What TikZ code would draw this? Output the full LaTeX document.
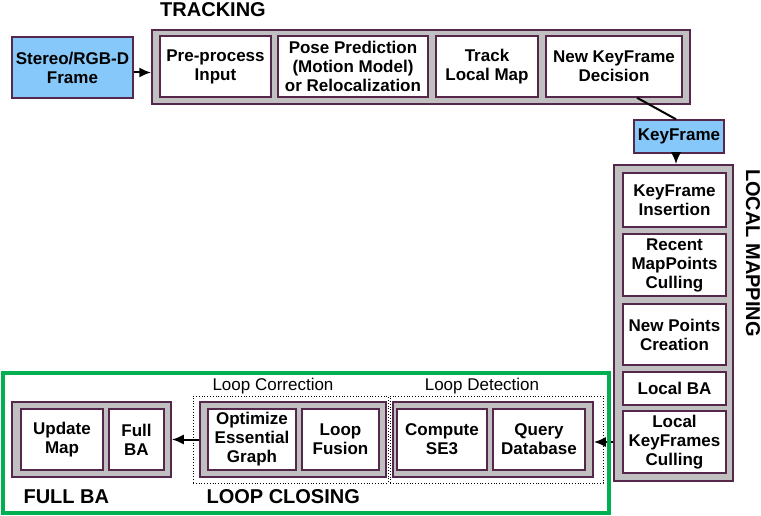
\documentclass[tikz,border=0pt]{standalone}
\usepackage{fontspec}
\setmainfont{Liberation Sans}
\usetikzlibrary{arrows.meta}
\definecolor{kfblue}{RGB}{135,200,250}
\definecolor{boxgray}{RGB}{192,192,192}
\definecolor{edge}{RGB}{85,40,75}
\definecolor{lcgreen}{RGB}{0,176,80}
\tikzset{task/.style={draw=edge, line width=1.5pt, fill=white, align=center, inner sep=0pt,
    font=\fontsize{17}{19}\selectfont\bfseries},
  input/.style={task, fill=kfblue},
  thread/.style={draw=edge, line width=1.5pt, fill=boxgray, inner sep=0pt},
  group/.style={draw, dotted, thick, inner sep=0pt},
  title/.style={font=\fontsize{20}{22}\selectfont\bfseries},
  sub/.style={font=\fontsize{17}{19}\selectfont},
  arr/.style={-{Latex[length=12pt,width=10pt]}, line width=2pt}}

\begin{document}
\begin{tikzpicture}[x=1pt, y=-1pt]
    \useasboundingbox (0,0) rectangle (761,516);
    \node [input, minimum width=121, minimum height=61] (frame) at (72.5,67.5) {Stereo/RGB-D\\Frame};
    \node [thread, minimum width=538, minimum height=74] (trk) at (421,67) {};
    \node [task, minimum width=111, minimum height=61] (pre) at (215.5,66.5) {Pre-process\\Input};
    \node [task, minimum width=150, minimum height=61] (pose) at (353,66.5) {Pose Prediction\\(Motion Model)\\or Relocalization};
    \node [task, minimum width=102, minimum height=61] (track) at (487,66.5) {Track\\Local Map};
    \node [task, minimum width=136, minimum height=61] (newkf) at (614,66.5) {New KeyFrame\\Decision};
    \node [title] (tracking) at (213,10) {TRACKING};
    \node [input, minimum width=90, minimum height=33] (kf) at (679,136.5) {KeyFrame};
    \node [thread, minimum width=119, minimum height=316] (lm) at (673.5,323) {};
    \node [task, minimum width=103, minimum height=54] (ins) at (674.5,200) {KeyFrame\\Insertion};
    \node [task, minimum width=103, minimum height=62] (cull) at (674.5,265) {Recent\\MapPoints\\Culling};
    \node [task, minimum width=103, minimum height=61] (crea) at (674.5,334.5) {New Points\\Creation};
    \node [task, minimum width=103, minimum height=33] (lba) at (674.5,388.5) {Local BA};
    \node [task, minimum width=103, minimum height=62] (kfcull) at (674.5,442) {Local\\KeyFrames\\Culling};
    \node [title, rotate=-90] (localmapping) at (753,253) {LOCAL MAPPING};
    \node [thread, minimum width=159, minimum height=75] (fba) at (91.5,439.5) {};
    \node [task, minimum width=82, minimum height=61] (upd) at (62,439.5) {Update\\Map};
    \node [task, minimum width=55, minimum height=61] (fullba) at (136.5,439.5) {Full\\BA};
    \node [group, minimum width=195, minimum height=87] (lcf) at (290.5,439.5) {};
    \node [group, minimum width=213, minimum height=87] (ldf) at (496.5,439.5) {};
    \node [thread, minimum width=186, minimum height=75] (lcg) at (293,439.5) {};
    \node [thread, minimum width=200, minimum height=75] (ldg) at (493,439.5) {};
    \node [task, minimum width=88, minimum height=61] (opt) at (252,439.5) {Optimize\\Essential\\Graph};
    \node [task, minimum width=77, minimum height=61] (fus) at (340.5,439.5) {Loop\\Fusion};
    \node [task, minimum width=90, minimum height=61] (se3) at (442,439.5) {Compute\\SE3};
    \node [task, minimum width=92, minimum height=61] (qdb) at (539,439.5) {Query\\Database};
    \node [sub] (corr) at (273,386) {Loop Correction};
    \node [sub] (det) at (482,386) {Loop Detection};
    \node [title, anchor=west] (fulltitle) at (20,497) {FULL BA};
    \node [title, anchor=west] (lctitle) at (203,497) {LOOP CLOSING};
    \draw [arr] ([yshift=-5pt]frame.east) -- ([yshift=-5pt]frame.east -| trk.west);
    \draw [line width=2pt] ([xshift=23pt]newkf.south) -- ([xshift=-3pt]kf.north);
    \draw [arr] ([xshift=-3pt]kf.south) -- ([xshift=-3pt]kf.south |- lm.north);
    \draw [arr] (kfcull.west -| lm.west) -- (kfcull.west -| ldg.east);
    \draw [arr] (lcg.west) -- (fba.east);
    \node [draw=lcgreen, line width=4pt, minimum width=606, minimum height=140, inner sep=0pt] (loopclosing) at (306,443) {};
\end{tikzpicture}
\end{document}
